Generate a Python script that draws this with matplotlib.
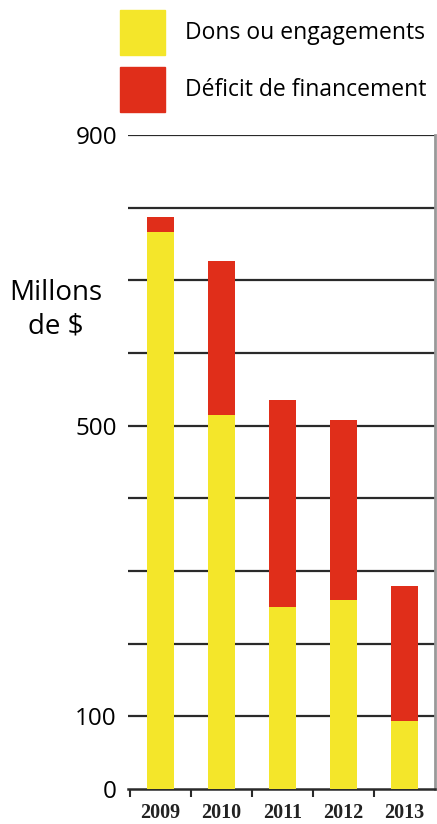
import numpy as np
import matplotlib
matplotlib.use("Agg")
import matplotlib.pyplot as plt
from matplotlib.patches import Rectangle

years = ["2009", "2010", "2011", "2012", "2013"]
dons = [767, 514, 251, 260, 94]          # Dons ou engagements
total = [787, 726, 536, 508, 280]        # haut de la barre
deficit = [t - d for t, d in zip(total, dons)]
series = ["Dons ou engagements", "Déficit de financement"]
ytick_vals = [0, 100, 500, 900]

yellow = "#f4e62a"
red = "#e02e1a"

plt.rcParams['font.family'] = ['Open Sans', 'DejaVu Sans']

W, H = 437, 824
fig = plt.figure(figsize=(W / 100, H / 100), dpi=100)
ax = fig.add_axes([128 / W, (H - 789) / H, (435 - 128) / W, (789 - 135) / H])

x = np.arange(len(years))
ax.bar(x, dons, width=0.44, color=yellow, zorder=3)
ax.bar(x, deficit, bottom=dons, width=0.44, color=red, zorder=3)

ax.set_ylim(0, 900)
ax.set_xlim(-0.53, 4.5)

for v in range(100, 901, 100):
    ax.axhline(v, color="#2a2a2a", lw=1.6, zorder=1)

ax.set_yticks(ytick_vals)
ax.set_yticklabels([str(v) for v in ytick_vals], fontsize=17.5)
ax.tick_params(axis="y", length=0, pad=8)

ax.set_xticks(x)
ax.set_xticklabels(years, family="Liberation Serif", fontweight="bold",
                   fontsize=14.5, color="#222222")
ax.set_xticks(np.arange(-0.5, 4, 1.0), minor=True)
ax.tick_params(axis="x", which="major", length=0, pad=10)
ax.tick_params(axis="x", which="minor", length=6, width=1.5, color="#2a2a2a")

for s in ["left", "top"]:
    ax.spines[s].set_visible(False)
ax.spines["bottom"].set_color("#2a2a2a")
ax.spines["bottom"].set_linewidth(1.8)
ax.spines["right"].set_color("#999999")
ax.spines["right"].set_linewidth(2)

fig.text(56 / W, 1 - 310 / H, "Millons\nde $", ha="center", va="center",
         fontsize=20, linespacing=1.25)

# legende
for i, (lab, col) in enumerate(zip(series, [yellow, red])):
    top = 10 + i * 57
    fig.add_artist(Rectangle((120 / W, 1 - (top + 45) / H), 45 / W, 45 / H,
                             transform=fig.transFigure, color=col))
    fig.text(185 / W, 1 - (top + 29) / H, lab, ha="left", va="baseline",
             fontsize=16.5)

fig.savefig("out.png", dpi=100)
